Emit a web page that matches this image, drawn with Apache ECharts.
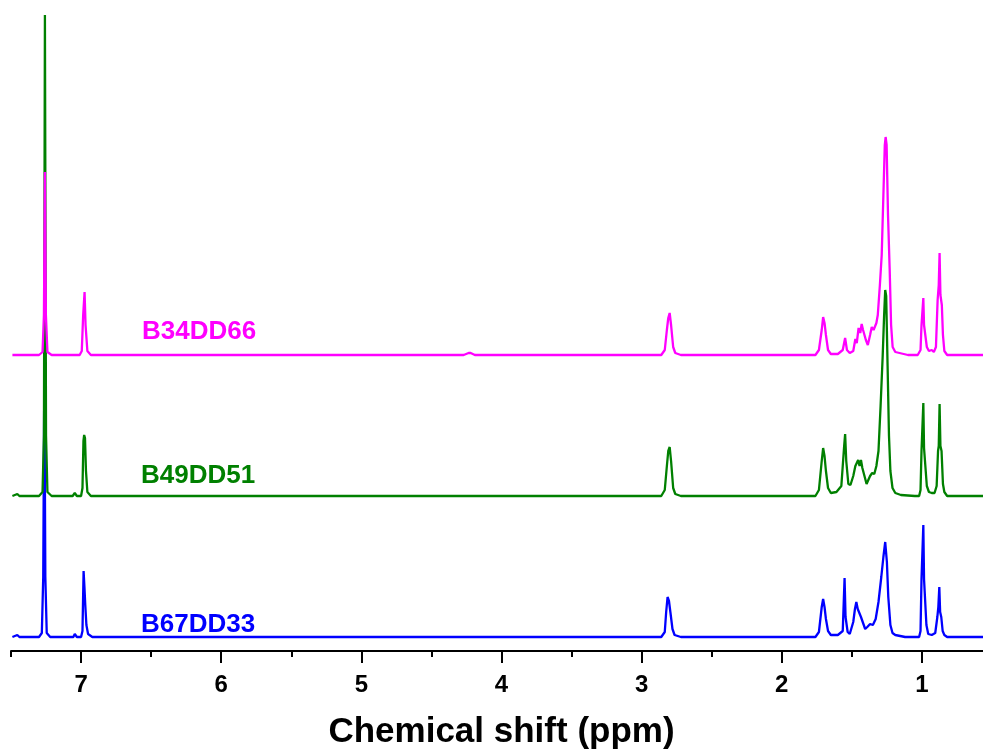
<!DOCTYPE html>
<html>
<head>
<meta charset="utf-8">
<script src="https://cdn.jsdelivr.net/npm/echarts@6/dist/echarts.min.js"></script>
<style>
html, body { margin: 0; padding: 0; background: #fff; }
#nmr_main { width: 983px; height: 753px; }
</style>
</head>
<body>
<div id="nmr_main"></div>
<script>
// shift in ppm, intensity above each trace's own baseline
const magentaShift = [7.49, 7.30, 7.275, 7.265, 7.258, 7.251, 7.24, 7.21, 7.01, 6.995, 6.985, 6.975, 6.968, 6.955, 6.93,
  4.27, 4.235, 4.22, 4.19, 2.86, 2.835, 2.82, 2.81, 2.80, 2.79, 2.775, 2.76, 2.72,
  1.76, 1.735, 1.715, 1.705, 1.695, 1.685, 1.67, 1.65, 1.60, 1.565, 1.548, 1.535, 1.515,
  1.49, 1.475, 1.465, 1.452, 1.44, 1.43, 1.42, 1.40, 1.386, 1.37, 1.358, 1.345, 1.337, 1.325, 1.315, 1.30, 1.287, 1.275,
  1.265, 1.259, 1.252, 1.242, 1.23, 1.22, 1.209, 1.19, 1.18, 1.10,
  1.03, 1.01, 1.003, 0.995, 0.99, 0.985, 0.975, 0.965, 0.95, 0.93, 0.915, 0.90, 0.888, 0.88, 0.874, 0.868, 0.858, 0.85, 0.84, 0.82, 0.5];
const magentaInt = [0, 0, 3, 40, 183, 40, 3, 0, 0, 4, 40, 63, 30, 4, 0,
  0, 2, 2, 0, 0, 5, 25, 37, 42, 30, 8, 2, 0,
  0, 5, 25, 38, 32, 20, 5, 1, 1, 5, 17, 5, 2,
  4, 16, 12, 27, 22, 31, 25, 15, 10, 20, 28, 25, 26, 32, 40, 70, 100, 160,
  210, 218, 210, 140, 85, 30, 8, 3, 2, 0,
  0, 5, 30, 30, 57, 30, 30, 8, 4, 5, 3, 8, 55, 70, 102, 60, 50, 20, 4, 0, 0];

const greenShift = [7.49, 7.455, 7.44, 7.30, 7.275, 7.265, 7.258, 7.25, 7.24, 7.21, 7.06, 7.045, 7.03,
  7.00, 6.99, 6.983, 6.978, 6.972, 6.965, 6.955, 6.93,
  2.86, 2.835, 2.82, 2.81, 2.80, 2.79, 2.775, 2.76, 2.72,
  1.76, 1.735, 1.715, 1.705, 1.695, 1.685, 1.67, 1.65, 1.61, 1.575, 1.555, 1.548, 1.54, 1.525, 1.51,
  1.49, 1.475, 1.465, 1.455, 1.445, 1.435, 1.425, 1.41, 1.395, 1.385, 1.37, 1.355, 1.34, 1.325, 1.31, 1.295, 1.28, 1.27,
  1.262, 1.255, 1.245, 1.235, 1.225, 1.21, 1.19, 1.15, 1.05,
  1.02, 1.01, 1.003, 0.995, 0.99, 0.985, 0.975, 0.965, 0.95, 0.93, 0.91, 0.895, 0.885, 0.88, 0.874, 0.868, 0.86, 0.85, 0.84, 0.82, 0.5];
const greenInt = [0, 2, 0, 0, 4, 60, 481, 60, 4, 0, 0, 3, 0,
  0, 8, 55, 61, 58, 25, 4, 0,
  0, 6, 30, 45, 49, 35, 8, 2, 0,
  0, 6, 35, 48, 40, 25, 8, 3, 4, 10, 50, 62, 35, 12, 11,
  20, 30, 28, 36, 30, 36, 28, 20, 12, 11, 20, 23, 22, 30, 45, 90, 140, 180,
  206, 200, 130, 60, 25, 8, 3, 1, 0,
  0, 6, 45, 45, 93, 48, 46, 10, 4, 3, 3, 10, 45, 50, 92, 50, 45, 12, 4, 0, 0];

const blueShift = [7.49, 7.455, 7.44, 7.30, 7.28, 7.27, 7.262, 7.255, 7.245, 7.22, 7.055, 7.045, 7.03,
  7.00, 6.99, 6.982, 6.976, 6.97, 6.962, 6.95, 6.92,
  2.86, 2.835, 2.825, 2.815, 2.805, 2.795, 2.78, 2.765, 2.72,
  1.76, 1.735, 1.715, 1.705, 1.695, 1.685, 1.67, 1.65, 1.60, 1.565, 1.552, 1.545, 1.53, 1.515,
  1.49, 1.478, 1.468, 1.458, 1.448, 1.435, 1.42, 1.405, 1.39, 1.37, 1.35, 1.33, 1.31, 1.29, 1.275,
  1.262, 1.25, 1.24, 1.225, 1.21, 1.19, 1.12,
  1.02, 1.01, 1.003, 0.995, 0.99, 0.985, 0.978, 0.968, 0.955, 0.93, 0.905, 0.89, 0.883, 0.876, 0.87, 0.862, 0.852, 0.84, 0.82, 0.5];
const blueInt = [0, 2, 0, 0, 4, 60, 270, 60, 4, 0, 0, 3, 0,
  0, 6, 66, 50, 32, 12, 3, 0,
  0, 5, 25, 40, 36, 25, 8, 2, 0,
  0, 5, 30, 38, 30, 18, 6, 2, 2, 6, 59, 20, 5, 3,
  15, 28, 35, 28, 30, 20, 14, 8, 10, 13, 12, 18, 35, 60, 80,
  95, 75, 40, 12, 4, 2, 0,
  0, 6, 58, 58, 112, 58, 56, 12, 3, 2, 4, 20, 30, 50, 25, 20, 6, 2, 0, 0];

// vertical offsets of the stacked traces
const blueOffset = 14;
const greenOffset = 155;
const magentaOffset = 296;

const majorTicks = [1, 2, 3, 4, 5, 6, 7];
const minorTicks = [1.5, 2.5, 3.5, 4.5, 5.5, 6.5, 7.5];

function toPairs(shift, inten, offset) {
  let out = [];
  for (let i = 0; i < shift.length; i++) {
    out.push([shift[i], inten[i] + offset]);
  }
  return out;
}

const fontName = 'Liberation Sans, Arial, sans-serif';
var myChart = echarts.init(document.getElementById('nmr_main'));
var option = {
  animation: false,
  grid: { left: 11, right: -9, top: 0, bottom: 102, outerBoundsMode: 'none', containLabel: false },
  xAxis: [
    {
      type: 'value',
      min: 0.5,
      max: 7.5,
      inverse: true,
      name: 'Chemical shift (ppm)',
      nameLocation: 'middle',
      nameGap: 64,
      nameTextStyle: { fontFamily: fontName, fontWeight: 'bold', fontSize: 35, color: '#000' },
      axisLine: { lineStyle: { color: '#000', width: 2 } },
      axisTick: { customValues: majorTicks, length: 12, lineStyle: { color: '#000', width: 2 } },
      axisLabel: { customValues: majorTicks, margin: 22, fontFamily: fontName, fontWeight: 'bold', fontSize: 24, color: '#000' },
      splitLine: { show: false }
    },
    {
      type: 'value',
      min: 0.5,
      max: 7.5,
      inverse: true,
      position: 'bottom',
      axisLine: { show: false },
      axisTick: { customValues: minorTicks, length: 6, lineStyle: { color: '#000', width: 2 } },
      axisLabel: { show: false },
      splitLine: { show: false }
    }
  ],
  yAxis: { type: 'value', min: 0, max: 651, show: false },
  series: [
    {
      name: 'B67DD33', type: 'line', xAxisIndex: 0, showSymbol: false,
      lineStyle: { color: '#0000ff', width: 2.3 }, itemStyle: { color: '#0000ff' },
      data: toPairs(blueShift, blueInt, blueOffset)
    },
    {
      name: 'B49DD51', type: 'line', xAxisIndex: 0, showSymbol: false,
      lineStyle: { color: '#008000', width: 2.3 }, itemStyle: { color: '#008000' },
      data: toPairs(greenShift, greenInt, greenOffset)
    },
    {
      name: 'B34DD66', type: 'line', xAxisIndex: 0, showSymbol: false,
      lineStyle: { color: '#ff00ff', width: 2.3 }, itemStyle: { color: '#ff00ff' },
      data: toPairs(magentaShift, magentaInt, magentaOffset)
    }
  ],
  graphic: [
    { type: 'text', left: 142, top: 319, style: { text: 'B34DD66', fill: '#ff00ff', font: 'bold 26px ' + fontName } },
    { type: 'text', left: 141, top: 463, style: { text: 'B49DD51', fill: '#008000', font: 'bold 26px ' + fontName } },
    { type: 'text', left: 141, top: 612, style: { text: 'B67DD33', fill: '#0000ff', font: 'bold 26px ' + fontName } }
  ]
};
myChart.setOption(option);
</script>
</body>
</html>
